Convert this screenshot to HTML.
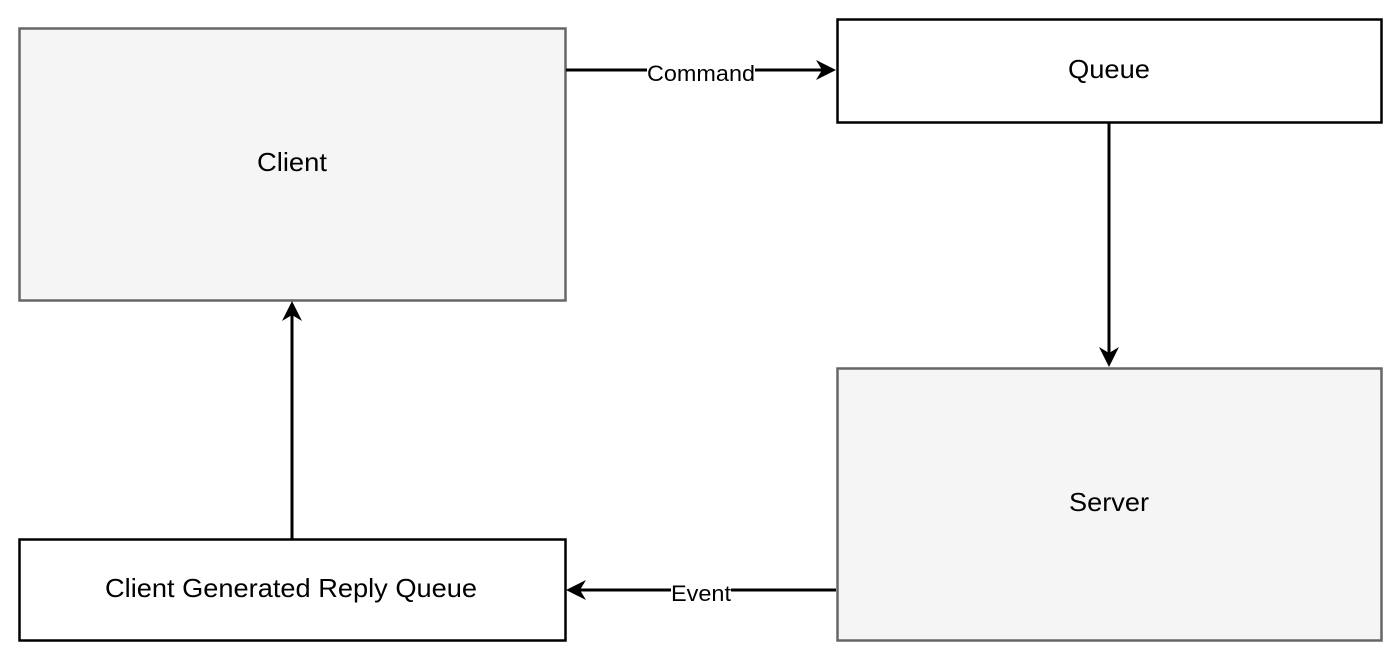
<!DOCTYPE html>
<html><head><style>body{margin:0;background:#fff}svg{display:block}</style></head><body>
<svg width="1400" height="659" viewBox="0 0 1400 659" xmlns="http://www.w3.org/2000/svg" font-family="Liberation Sans, sans-serif">
<rect x="19.5" y="28.5" width="546" height="272" fill="#f5f5f5" stroke="#666" stroke-width="2.5"/>
<rect x="837.5" y="19.5" width="544" height="103" fill="#fff" stroke="#000" stroke-width="2.5"/>
<rect x="837.5" y="368.5" width="544" height="272" fill="#f5f5f5" stroke="#666" stroke-width="2.5"/>
<rect x="19.5" y="539.5" width="546" height="101" fill="#fff" stroke="#000" stroke-width="2.5"/>
<text x="292" y="171" font-size="26" text-anchor="middle" textLength="70" lengthAdjust="spacingAndGlyphs">Client</text>
<text x="1109" y="78" font-size="26" text-anchor="middle" textLength="82" lengthAdjust="spacingAndGlyphs">Queue</text>
<text x="1109" y="511" font-size="26" text-anchor="middle" textLength="80" lengthAdjust="spacingAndGlyphs">Server</text>
<text x="291" y="597" font-size="26" text-anchor="middle" textLength="372" lengthAdjust="spacingAndGlyphs">Client Generated Reply Queue</text>
<g stroke="#000" stroke-width="3" fill="none">
<line x1="566" y1="70" x2="828" y2="70"/>
<line x1="1109" y1="123" x2="1109" y2="358"/>
<line x1="836" y1="590" x2="575" y2="590"/>
<line x1="292" y1="539" x2="292" y2="310"/>
</g>
<g fill="#000">
<path d="M836 70 L816 60 L822 70 L816 80 Z"/>
<path d="M1109 367 L1099 347 L1109 353 L1119 347 Z"/>
<path d="M566 590 L586 580 L580 590 L586 600 Z"/>
<path d="M292 301 L282 321 L292 315 L302 321 Z"/>
</g>
<rect x="647" y="60" width="108" height="22" fill="#fff"/>
<rect x="671" y="580" width="60" height="22" fill="#fff"/>
<text x="701" y="81" font-size="22" text-anchor="middle" textLength="108" lengthAdjust="spacingAndGlyphs">Command</text>
<text x="701" y="601" font-size="22" text-anchor="middle" textLength="60" lengthAdjust="spacingAndGlyphs">Event</text>
</svg>
</body></html>
